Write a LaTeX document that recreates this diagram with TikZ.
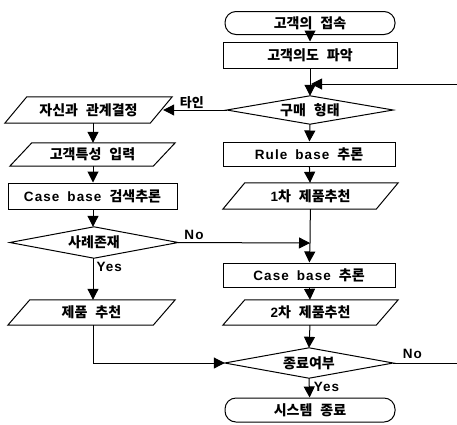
\documentclass[tikz,border=0pt]{standalone}
\usepackage{fontspec}
\setmainfont{Noto Sans CJK KR}
\newfontfamily\latf{Liberation Sans}[LetterSpace=8]
\usetikzlibrary{arrows.meta,calc}
\newcommand{\kfont}{\fontsize{14}{16}\selectfont\bfseries\spaceskip 8pt plus 1pt\relax}
\newcommand{\lt}[1]{{\latf\fontsize{13.5}{15}\selectfont\bfseries #1}}
\tikzset{
  x=1pt,y=-1pt,
  every node/.style={font=\kfont},
  ln/.style={draw=black,line width=1pt},
  arr/.style={ln,-{Triangle[length=11pt,width=11pt]}},
  boxn/.style={ln,rectangle,inner sep=0pt},
  termn/.style={ln,rectangle,rounded corners=11pt,inner sep=0pt},
  parn/.style={rectangle,inner sep=0pt},
  lbl/.style={inner sep=1pt,font=\latf\fontsize{13.5}{15}\selectfont\bfseries},
  klbl/.style={inner sep=1pt,font=\fontsize{13}{15}\selectfont\bfseries}
}
\newcommand{\para}[1]{\draw[ln] ($(#1.south west)$) -- ($(#1.north west)+(22,0)$) -- (#1.north east) -- ($(#1.south east)+(-22,0)$) -- cycle;}
\newcommand{\diamd}[1]{\draw[ln] (#1.west) -- (#1.north) -- (#1.east) -- (#1.south) -- cycle;}
\begin{document}
\begin{tikzpicture}
\useasboundingbox (0,0) rectangle (457,424);
% right column
\node[termn,minimum width=170pt,minimum height=23pt] (t1) at (310,23) {고객의 접속};
\node[boxn,minimum width=174pt,minimum height=26pt] (b1) at (310,55) {고객의도 파악};
\node[parn,minimum width=166pt,minimum height=28pt] (d1) at (310,110) {구매 형태};
\node[boxn,minimum width=172pt,minimum height=24pt] (b3) at (309,154) {\lt{Rule base} 추론};
\node[parn,minimum width=175pt,minimum height=26pt] (p4) at (310.5,196) {\lt{1}차 제품추천};
\node[boxn,minimum width=172pt,minimum height=24pt] (b4) at (309,275) {\lt{Case base} 추론};
\node[parn,minimum width=175pt,minimum height=25pt] (p5) at (310.5,312.5) {\lt{2}차 제품추천};
\node[parn,minimum width=168pt,minimum height=30pt] (d3) at (309,363) {종료여부};
\node[termn,minimum width=170pt,minimum height=24pt] (t2) at (310,410) {시스템 종료};
% left column
\node[parn,minimum width=167pt,minimum height=26pt] (p1) at (88.5,110) {자신과 관계결정};
\node[parn,minimum width=165pt,minimum height=23pt] (p2) at (92.5,154.5) {고객특성 입력};
\node[boxn,minimum width=169pt,minimum height=26pt] (b2) at (92.5,196) {\lt{Case base} 검색추론};
\node[parn,minimum width=168pt,minimum height=31pt] (d2) at (94,242.5) {사례존재};
\node[parn,minimum width=167pt,minimum height=25pt] (p3) at (91.5,312.5) {제품 추천};
\para{p1}\para{p2}\para{p3}\para{p4}\para{p5}
\diamd{d1}\diamd{d2}\diamd{d3}
% junctions
\coordinate (fbin) at (457,84);
\coordinate (fbj) at (311,84);
\coordinate (nj) at (310,243);
\coordinate (lc) at (93,363);
\coordinate (nout) at (457,363);
% connectors
\draw[arr] (t1) -- (b1);
\draw[arr] (b1) -- (d1.north);
\draw[arr] (fbin) -- (fbj);
\draw[arr] (d1.west) -- ($(p1.east)+(-9,0)$) node[klbl,pos=0.55,above] {타인};
\draw[arr] (d1.south) -- (b3);
\draw[arr] (b3) -- (p4);
\draw[ln] (p4) -- (nj);
\draw[arr] (nj) -- (b4);
\draw[arr] (d2.east) -- (nj) node[lbl,pos=0.12,above=1pt] {No};
\draw[arr] (p1.south -| 93,0) -- (p2.north -| 93,0);
\draw[arr] (p2.south -| 93,0) -- (b2.north -| 93,0);
\draw[arr] (b2.south -| 93,0) -- (d2.north -| 93,0);
\draw[arr] (d2.south -| 93,0) -- (p3.north -| 93,0) node[lbl,pos=0.22,right=2pt] {Yes};
\draw[arr] (b4) -- (p5);
\draw[arr] (p5) -- (d3.north);
\draw[ln] (p3.south -| lc) -- (lc);
\draw[arr] (lc) -- (d3.west);
\draw[ln] (d3.east) -- (nout) node[lbl,pos=0.3,above=3pt] {No};
\draw[arr] (d3.south) -- (t2) node[lbl,pos=0.45,right=3pt] {Yes};
\end{tikzpicture}
\end{document}
